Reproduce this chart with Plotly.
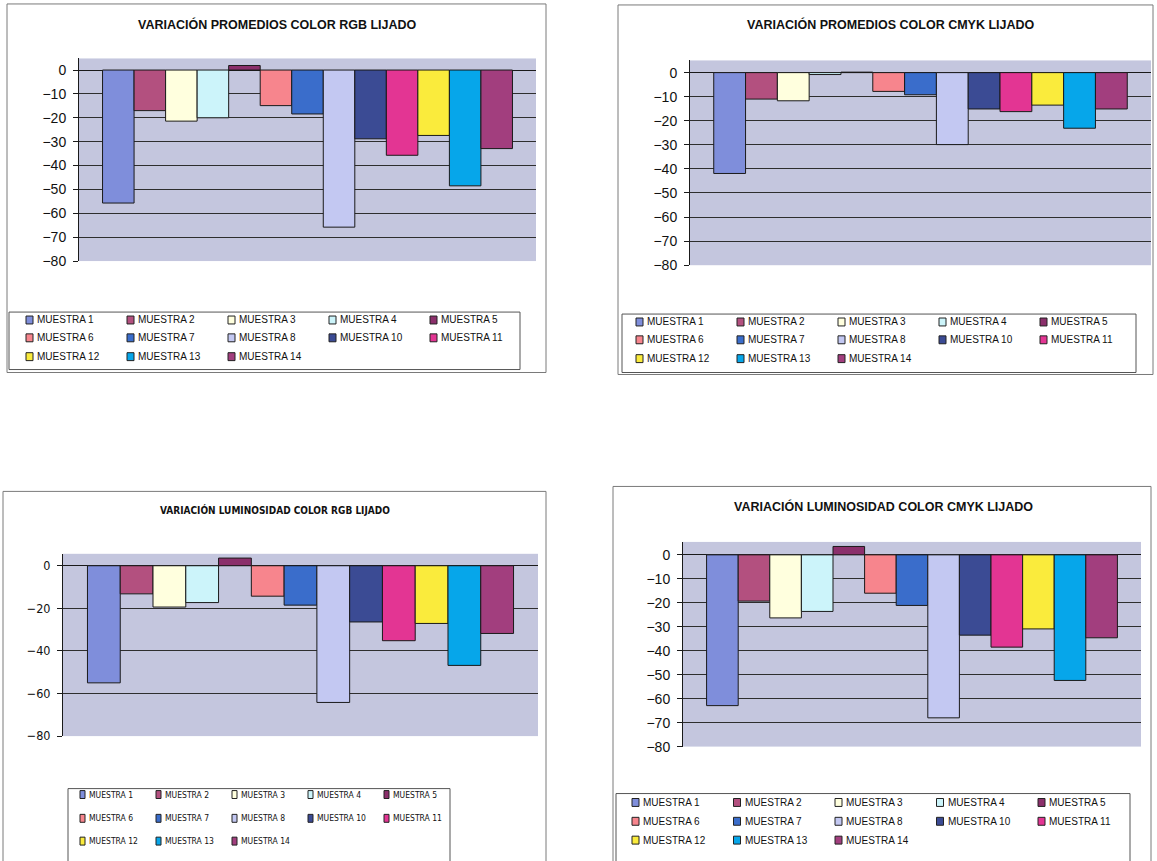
import plotly.graph_objects as go

W, H = 1157, 861

series = ["MUESTRA 1", "MUESTRA 2", "MUESTRA 3", "MUESTRA 4", "MUESTRA 5",
          "MUESTRA 6", "MUESTRA 7", "MUESTRA 8", "MUESTRA 10", "MUESTRA 11",
          "MUESTRA 12", "MUESTRA 13", "MUESTRA 14"]

colors = ["#7F8EDB", "#B3507F", "#FFFFDE", "#CCF4FA", "#8B2F6B",
          "#F7858D", "#3A6DCB", "#C3C8F2", "#3B4B94", "#E33593",
          "#FAEB3C", "#06A6EA", "#A23E7E"]

titles = ["VARIACIÓN PROMEDIOS COLOR RGB LIJADO",
          "VARIACIÓN PROMEDIOS COLOR CMYK LIJADO",
          "VARIACIÓN LUMINOSIDAD COLOR RGB LIJADO",
          "VARIACIÓN LUMINOSIDAD COLOR CMYK LIJADO"]

prom_rgb = [-55.7, -17.0, -21.4, -20.0, 1.9, -14.9, -18.4, -65.8, -28.8, -35.7, -27.4, -48.5, -32.9]
prom_cmyk = [-41.9, -11.0, -11.7, -0.8, 0.2, -7.8, -9.2, -29.9, -15.1, -16.2, -13.5, -23.1, -15.1]
lum_rgb = [-55.0, -13.2, -19.4, -17.3, 3.6, -14.3, -18.5, -64.2, -26.4, -35.2, -27.1, -46.8, -31.8]
lum_cmyk = [-62.9, -19.3, -26.3, -23.6, 3.5, -16.0, -21.1, -68.0, -33.5, -38.5, -30.9, -52.4, -34.6]

datasets = [prom_rgb, prom_cmyk, lum_rgb, lum_cmyk]
ytick_step = [10, 10, 20, 10]

REG = "Liberation Sans, Arial, sans-serif"
NARROW = "Liberation Sans Narrow, DejaVu Sans Condensed, Arial Narrow, sans-serif"


def px(x):
    return x / W


def py(y):
    return 1 - y / H


# per-chart geometry in pixels
panels = [
    dict(plot=(79, 536, 59, 263.5), top=4.85, box=(7, 546, 4, 376),
         title=(277, 25), leg_box=(9, 520, 315, 373),
         leg_x=35, pitch=101, rows=(323, 341, 360), sw=(7, 8)),
    dict(plot=(690, 1151, 61, 267.7), top=5.06, box=(618, 1153, 5, 378),
         title=(891, 25), leg_box=(622, 1136, 317, 376),
         leg_x=645, pitch=101, rows=(325, 343, 362), sw=(7, 8)),
    dict(plot=(63, 538, 559, 743), top=5.6, box=(3, 546, 496, 875),
         title=(275, 515), leg_box=(68, 450, 796, 875),
         leg_x=87, pitch=76, rows=(802, 826, 849), sw=(5, 8)),
    dict(plot=(683, 1141, 547, 753.6), top=5.4, box=(613, 1151, 491, 875),
         title=(883, 511), leg_box=(616, 1130, 801, 875),
         leg_x=641, pitch=101.5, rows=(810, 829, 848), sw=(7, 8)),
]

fig = go.Figure()
layout = dict()
shapes = []
annotations = []

for p_i, (p, vals) in enumerate(zip(panels, datasets)):
    n = "" if p_i == 0 else str(p_i + 1)
    x0, x1, y0, y1 = p["plot"]
    narrow = p_i == 2
    font_fam = NARROW if narrow else REG

    # chart frame
    bx0, bx1, by0, by1 = p["box"]
    shapes.append(dict(type="rect", xref="paper", yref="paper",
                       x0=px(bx0), x1=px(bx1), y0=py(by1), y1=py(by0),
                       line=dict(color="#7A7A7A", width=1), layer="below"))
    # legend frame
    lx0, lx1, ly0, ly1 = p["leg_box"]
    shapes.append(dict(type="rect", xref="paper", yref="paper",
                       x0=px(lx0), x1=px(lx1), y0=py(ly1), y1=py(ly0),
                       line=dict(color="#555555", width=1), layer="below"))

    annotations.append(dict(text="<b>%s</b>" % titles[p_i], xref="paper", yref="paper",
                            x=px(p["title"][0]), y=py(p["title"][1]),
                            xanchor="center", yanchor="middle", showarrow=False,
                            font=dict(family=font_fam, size=10 if narrow else 12.5,
                                      color="#111111")))

    layout["xaxis" + n] = dict(domain=[px(x0), px(x1)], range=[-0.5, 0.5],
                               showticklabels=False, showgrid=False, zeroline=False,
                               showline=False, ticks="", anchor="y" + n, fixedrange=True)
    layout["yaxis" + n] = dict(domain=[py(y1), py(y0)], range=[-80, p["top"]],
                               tickmode="linear", tick0=0, dtick=ytick_step[p_i],
                               showgrid=True, gridcolor="#2E2E2E", gridwidth=1,
                               zeroline=True, zerolinecolor="#1A1A1A", zerolinewidth=1,
                               showline=True, linecolor="#1A1A1A", linewidth=1,
                               ticks="outside", ticklen=5, tickcolor="#1A1A1A",
                               ticklabelstandoff=4,
                               tickfont=dict(family=font_fam, size=12.5 if narrow else 14,
                                             color="#111111"),
                               anchor="x" + n, fixedrange=True)

    for s_i, (name, val, col) in enumerate(zip(series, vals, colors)):
        fig.add_trace(go.Bar(
            x=[0], y=[val], name=name,
            marker=dict(color=col, line=dict(color="#1A1A1A", width=1)),
            xaxis="x" + n, yaxis="y" + n, showlegend=False,
            hoverinfo="name+y"))

        # legend entry: small swatch followed by the series name, 5 per row
        row, colm = divmod(s_i, 5)
        tx = p["leg_x"] + colm * p["pitch"]
        ty = p["rows"][row]
        sw_w, sw_h = p["sw"]
        shapes.append(dict(type="rect", xref="paper", yref="paper",
                           x0=px(tx - sw_w - 2), x1=px(tx - 2),
                           y0=py(ty + sw_h / 2), y1=py(ty - sw_h / 2),
                           fillcolor=col, line=dict(color="#222222", width=1)))
        annotations.append(dict(text=name, xref="paper", yref="paper",
                                x=px(tx), y=py(ty), xanchor="left", yanchor="middle",
                                showarrow=False,
                                font=dict(family=font_fam, size=8.5 if narrow else 10,
                                          color="#111111")))

fig.update_layout(**layout)
fig.update_layout(
    width=W, height=H, margin=dict(l=0, r=0, t=0, b=0),
    paper_bgcolor="white", plot_bgcolor="#C4C6DE",
    barmode="group", bargap=0.103, bargroupgap=0,
    shapes=shapes, annotations=annotations,
    showlegend=False,
)

fig.write_html("out.html")
